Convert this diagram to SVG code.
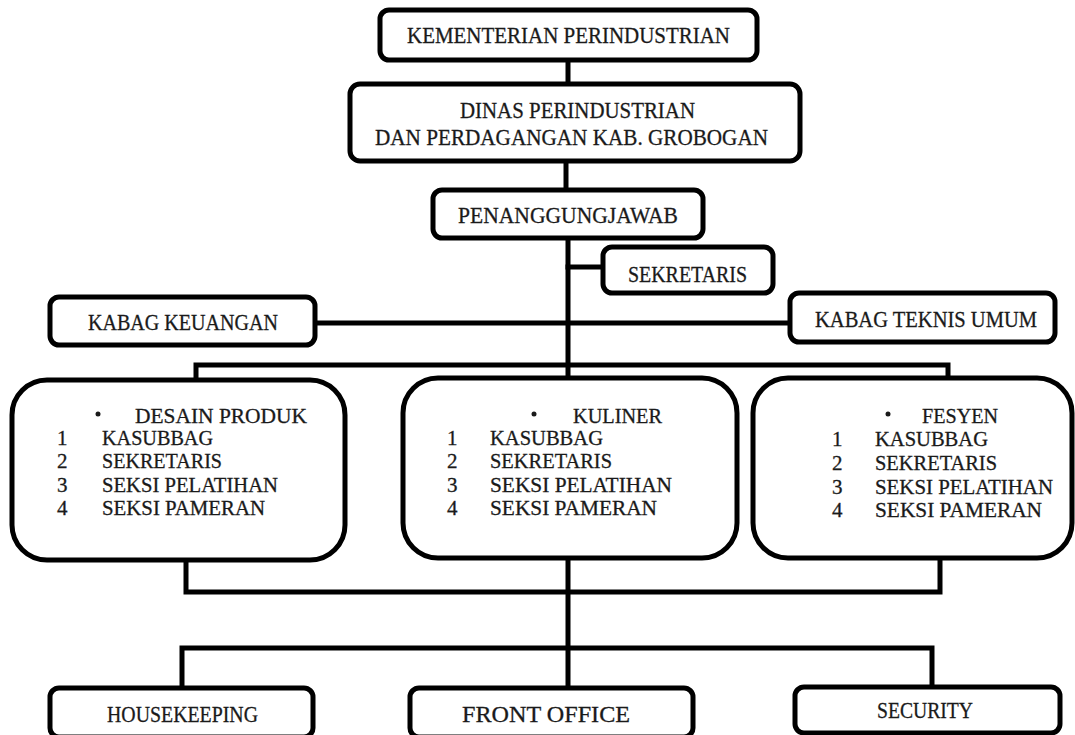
<svg xmlns="http://www.w3.org/2000/svg" width="1075" height="735" viewBox="0 0 1075 735">
<style>
.box{fill:#fff;stroke:#000;stroke-width:5}
.ln{fill:none;stroke:#000;stroke-width:5;stroke-linejoin:miter;stroke-linecap:square}
text{font-family:"Liberation Serif","Times New Roman",serif;font-size:24px;fill:#1a1a1a;stroke:#1a1a1a;stroke-width:0.3}
text.li{font-size:21px}
</style>
<rect width="1075" height="735" fill="#fff"/>
<g id="connectors">
<path class="ln" d="M568 60 V84"/>
<path class="ln" d="M566 161 V190"/>
<path class="ln" d="M568 238 V378"/>
<path class="ln" d="M568 267 H603"/>
<path class="ln" d="M315 323 H790"/>
<path class="ln" d="M196 380 V365 H948 V378"/>
<path class="ln" d="M186 560 V592 H940 V558"/>
<path class="ln" d="M568 558 V688"/>
<path class="ln" d="M182 688 V648 H932 V687"/>
</g>
<g id="kementerian">
<rect class="box" x="380" y="10" width="377" height="50" rx="9"/>
<text x="407" y="43" textLength="323" lengthAdjust="spacingAndGlyphs">KEMENTERIAN  PERINDUSTRIAN</text>
</g>
<g id="dinas">
<rect class="box" x="350" y="84" width="450" height="77" rx="10"/>
<text x="460" y="118" textLength="235" lengthAdjust="spacingAndGlyphs">DINAS PERINDUSTRIAN</text>
<text x="375" y="145" textLength="393" lengthAdjust="spacingAndGlyphs">DAN PERDAGANGAN KAB. GROBOGAN</text>
</g>
<g id="penanggungjawab">
<rect class="box" x="433" y="190" width="270" height="48" rx="9"/>
<text x="458" y="223" textLength="220" lengthAdjust="spacingAndGlyphs">PENANGGUNGJAWAB</text>
</g>
<g id="sekretaris">
<rect class="box" x="603" y="247" width="170" height="46" rx="9"/>
<text x="628" y="282" textLength="119" lengthAdjust="spacingAndGlyphs">SEKRETARIS</text>
</g>
<g id="kabag-keuangan">
<rect class="box" x="50" y="297" width="265" height="48" rx="9"/>
<text x="88" y="330" textLength="190" lengthAdjust="spacingAndGlyphs">KABAG KEUANGAN</text>
</g>
<g id="kabag-teknis">
<rect class="box" x="790" y="293" width="265" height="49" rx="9"/>
<text x="815" y="327" textLength="222" lengthAdjust="spacingAndGlyphs">KABAG TEKNIS UMUM</text>
</g>
<g id="desain-produk">
<rect class="box" x="12" y="380" width="333" height="180" rx="35"/>
<circle cx="98" cy="414" r="2.5" fill="#1a1a1a"/>
<text class="li" x="135" y="423" textLength="172" lengthAdjust="spacingAndGlyphs">DESAIN PRODUK</text>
<text class="li" x="57" y="445">1</text><text class="li" x="102" y="445" textLength="111" lengthAdjust="spacingAndGlyphs">KASUBBAG</text>
<text class="li" x="57" y="468">2</text><text class="li" x="102" y="468" textLength="120" lengthAdjust="spacingAndGlyphs">SEKRETARIS</text>
<text class="li" x="57" y="492">3</text><text class="li" x="102" y="492" textLength="176" lengthAdjust="spacingAndGlyphs">SEKSI  PELATIHAN</text>
<text class="li" x="57" y="515">4</text><text class="li" x="102" y="515" textLength="163" lengthAdjust="spacingAndGlyphs">SEKSI  PAMERAN</text>
</g>
<g id="kuliner">
<rect class="box" x="403" y="378" width="334" height="180" rx="35"/>
<circle cx="534" cy="414" r="2.5" fill="#1a1a1a"/>
<text class="li" x="573" y="423" textLength="89" lengthAdjust="spacingAndGlyphs">KULINER</text>
<text class="li" x="447" y="445">1</text><text class="li" x="490" y="445" textLength="113" lengthAdjust="spacingAndGlyphs">KASUBBAG</text>
<text class="li" x="447" y="468">2</text><text class="li" x="490" y="468" textLength="122" lengthAdjust="spacingAndGlyphs">SEKRETARIS</text>
<text class="li" x="447" y="492">3</text><text class="li" x="490" y="492" textLength="182" lengthAdjust="spacingAndGlyphs">SEKSI PELATIHAN</text>
<text class="li" x="447" y="515">4</text><text class="li" x="490" y="515" textLength="167" lengthAdjust="spacingAndGlyphs">SEKSI  PAMERAN</text>
</g>
<g id="fesyen">
<rect class="box" x="753" y="378" width="319" height="180" rx="35"/>
<circle cx="888" cy="414" r="2.5" fill="#1a1a1a"/>
<text class="li" x="922" y="423" textLength="76" lengthAdjust="spacingAndGlyphs">FESYEN</text>
<text class="li" x="832" y="446">1</text><text class="li" x="875" y="446" textLength="113" lengthAdjust="spacingAndGlyphs">KASUBBAG</text>
<text class="li" x="832" y="470">2</text><text class="li" x="875" y="470" textLength="122" lengthAdjust="spacingAndGlyphs">SEKRETARIS</text>
<text class="li" x="832" y="494">3</text><text class="li" x="875" y="494" textLength="178" lengthAdjust="spacingAndGlyphs">SEKSI PELATIHAN</text>
<text class="li" x="832" y="517">4</text><text class="li" x="875" y="517" textLength="167" lengthAdjust="spacingAndGlyphs">SEKSI  PAMERAN</text>
</g>
<g id="housekeeping">
<rect class="box" x="50" y="688" width="263" height="49" rx="9"/>
<text x="107" y="722" textLength="151" lengthAdjust="spacingAndGlyphs">HOUSEKEEPING</text>
</g>
<g id="front-office">
<rect class="box" x="410" y="688" width="283" height="49" rx="9"/>
<text x="462" y="722" textLength="168" lengthAdjust="spacingAndGlyphs">FRONT OFFICE</text>
</g>
<g id="security">
<rect class="box" x="795" y="687" width="265" height="46" rx="9"/>
<text x="877" y="718" textLength="96" lengthAdjust="spacingAndGlyphs">SECURITY</text>
</g>
</svg>
